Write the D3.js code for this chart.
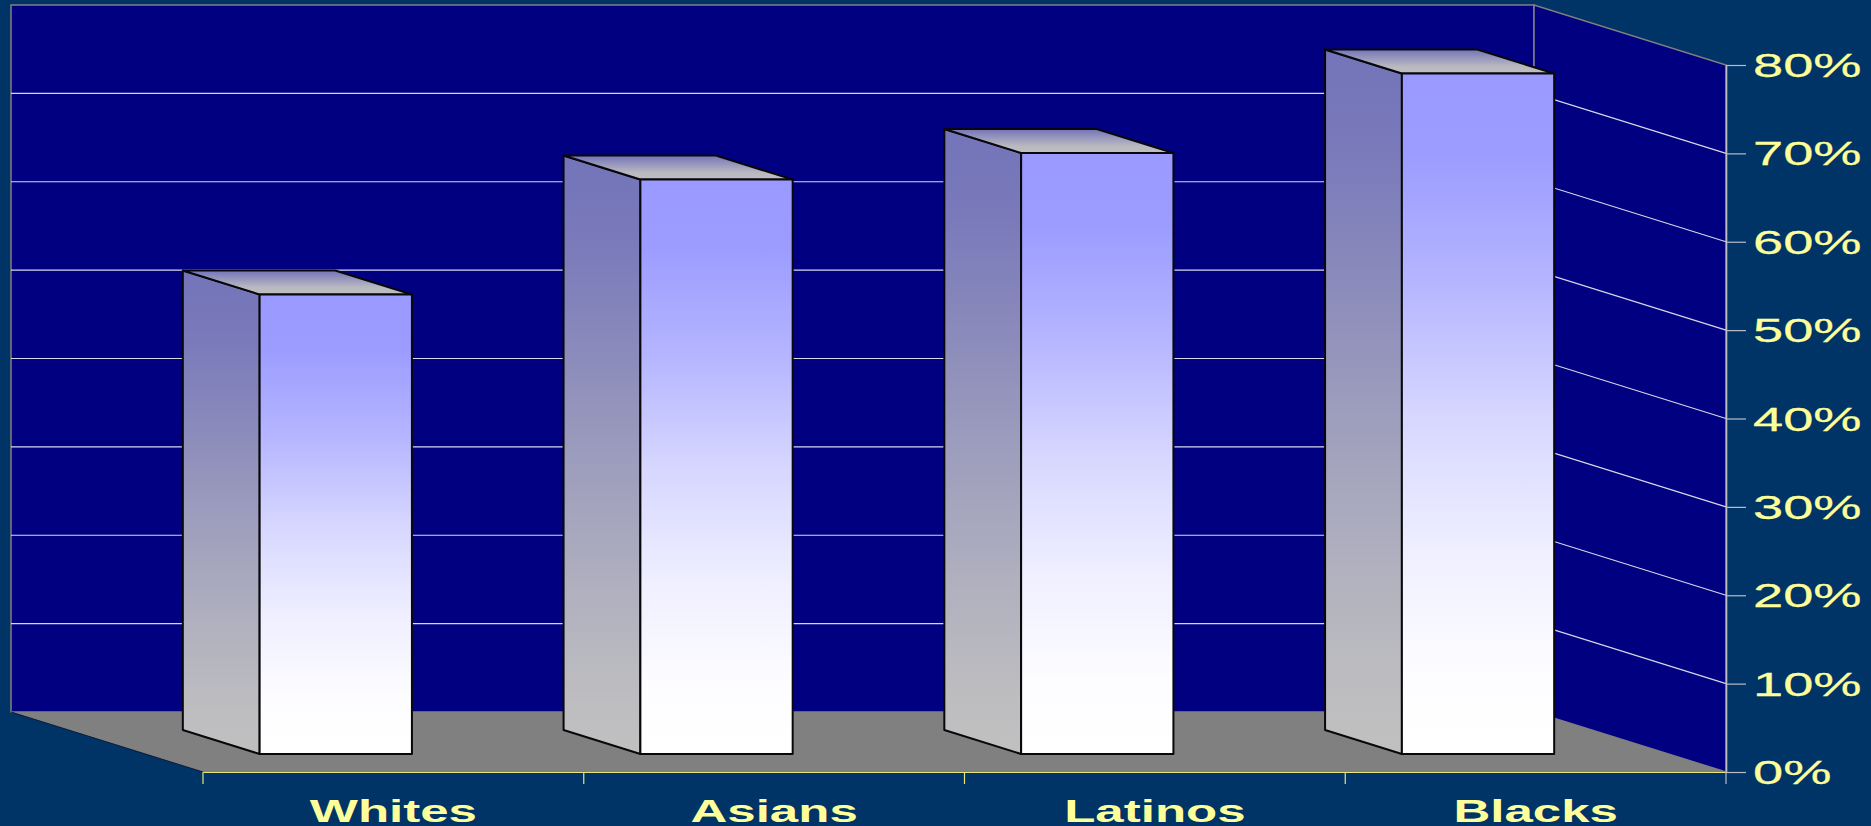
<!DOCTYPE html>
<html><head><meta charset="utf-8">
<script src="https://cdnjs.cloudflare.com/ajax/libs/d3/7.8.5/d3.min.js"></script>
<style>html,body{margin:0;padding:0;background:#003366;overflow:hidden}svg{display:block}</style>
</head><body><svg id="c" width="1871" height="826"></svg>
<script>
const categories = ["Whites", "Asians", "Latinos", "Blacks"];
const values = [52, 65, 68, 77];
const yTicks = [0, 10, 20, 30, 40, 50, 60, 70, 80];

const svg = d3.select("#c");
const x = d3.scaleBand().domain(categories).range([203, 1726]).paddingInner(0.6).paddingOuter(0.3);
const y = d3.scaleLinear().domain([0, 80]).range([772, 65]);
const depthX = d3.scaleLinear().domain([0, 1]).range([0, -192]);
const depthY = d3.scaleLinear().domain([0, 1]).range([0, -60]);
const P = (px, v, d) => [px + depthX(d), y(v) + depthY(d)];
const poly = pts => "M" + pts.map(p => p.join(",")).join("L") + "Z";
const xL = x.range()[0], xR = x.range()[1];

const defs = svg.append("defs");
function grad(id, stops) {
  const g = defs.append("linearGradient").attr("id", id).attr("x1", 0).attr("y1", 0).attr("x2", 0).attr("y2", 1);
  stops.forEach(s => g.append("stop").attr("offset", s[0]).attr("stop-color", s[1]));
}
grad("front", [[0, "#9999ff"], [0.12, "#9c9cff"], [0.3, "#b4b4ff"], [0.5, "#d6d6ff"], [0.7, "#efefff"], [0.88, "#fdfdff"], [1, "#ffffff"]]);
grad("side", [[0, "#7474ba"], [0.12, "#7878bb"], [0.3, "#8888bb"], [0.5, "#9c9cbd"], [0.75, "#b2b2bf"], [0.92, "#bebec0"], [1, "#c0c0c0"]]);
grad("top", [[0, "#7474ba"], [0.7, "#b8b8c0"], [1, "#c0c0c0"]]);

svg.append("rect").attr("width", 1871).attr("height", 826).attr("fill", "#003366");

// walls and floor
svg.append("path").attr("fill", "#000080").attr("stroke", "#808080").attr("stroke-width", 1.5)
  .attr("d", poly([P(xL, 0, 1), P(xL, 80, 1), P(xR, 80, 1), P(xR, 0, 1)]));
svg.append("path").attr("fill", "#000080").attr("stroke", "#808080").attr("stroke-width", 1.5)
  .attr("d", poly([P(xR, 0, 1), P(xR, 80, 1), P(xR, 80, 0), P(xR, 0, 0)]));
svg.append("path").attr("fill", "#808080")
  .attr("d", poly([P(xL, 0, 1), P(xR, 0, 1), P(xR, 0, 0), P(xL, 0, 0)]));
svg.append("path").attr("fill", "none").attr("stroke", "#0a1a3a").attr("stroke-width", 1)
  .attr("d", "M" + P(xL, 0, 1).join(",") + "L" + P(xL, 0, 0).join(","));

// gridlines
const gridVals = yTicks.filter(t => t > 0 && t < 80);
svg.append("g").selectAll("path").data(gridVals).join("path")
  .attr("fill", "none").attr("stroke", "#d8d8e8").attr("stroke-width", 1.1)
  .attr("d", t => "M" + P(xL, t, 1).join(",") + "L" + P(xR, t, 1).join(",") + "L" + P(xR, t, 0).join(","));

// axes
const gy = svg.append("g").attr("transform", `translate(${xR},0)`)
  .call(d3.axisRight(y).tickValues(yTicks).tickFormat(d => d + "%").tickSize(20).tickSizeOuter(0));
gy.select(".domain").attr("stroke", "#c0c0c0").attr("stroke-width", 1.6);
gy.selectAll("line").attr("stroke", "#b8bcc8").attr("stroke-width", 1.2);
gy.selectAll("text").attr("x", 0).attr("y", 0).attr("dy", 0).attr("text-anchor", "start")
  .attr("font-family", "'Liberation Sans'").attr("font-size", 32.5).attr("fill", "#ffff99")
  .attr("stroke", "#ffff99").attr("stroke-width", 0.25)
  .attr("transform", "translate(27,11.5) scale(1.67,1)");

const gx = svg.append("g").attr("transform", `translate(0,${y(0)})`)
  .call(d3.axisBottom(x).tickSize(0).tickSizeOuter(0));
gx.select(".domain").attr("stroke", "#e6e67a").attr("stroke-width", 1.2);
gx.selectAll("text").attr("x", 0).attr("y", 0).attr("dy", 0).attr("text-anchor", "middle")
  .attr("font-family", "'Liberation Sans'").attr("font-weight", "bold").attr("font-size", 31.5).attr("fill", "#ffff99")
  .attr("transform", "translate(0,50) scale(1.62,1)");
svg.append("g").selectAll("line").data(d3.range(categories.length + 1)).join("line")
  .attr("x1", i => xL + i * x.step()).attr("x2", i => xL + i * x.step())
  .attr("y1", y(0)).attr("y2", y(0) + 12)
  .attr("stroke", i => i === categories.length ? "#b8bcc8" : "#e6e67a").attr("stroke-width", 1.2);

// bars
const dF = 0.3, dB = 0.7;
const bars = svg.append("g").selectAll("g").data(categories.map((c, i) => ({ c, v: values[i] }))).join("g")
  .attr("stroke", "#08080c").attr("stroke-width", 2).attr("stroke-linejoin", "round");
bars.append("path").attr("fill", "url(#side)").attr("d", d => {
  const a = x(d.c);
  return poly([P(a, 0, dF), P(a, d.v, dF), P(a, d.v, dB), P(a, 0, dB)]);
});
bars.append("path").attr("fill", "url(#top)").attr("d", d => {
  const a = x(d.c), b = a + x.bandwidth();
  return poly([P(a, d.v, dB), P(b, d.v, dB), P(b, d.v, dF), P(a, d.v, dF)]);
});
bars.append("path").attr("fill", "url(#front)").attr("d", d => {
  const a = x(d.c), b = a + x.bandwidth();
  return poly([P(a, d.v, dF), P(b, d.v, dF), P(b, 0, dF), P(a, 0, dF)]);
});
</script></body></html>
